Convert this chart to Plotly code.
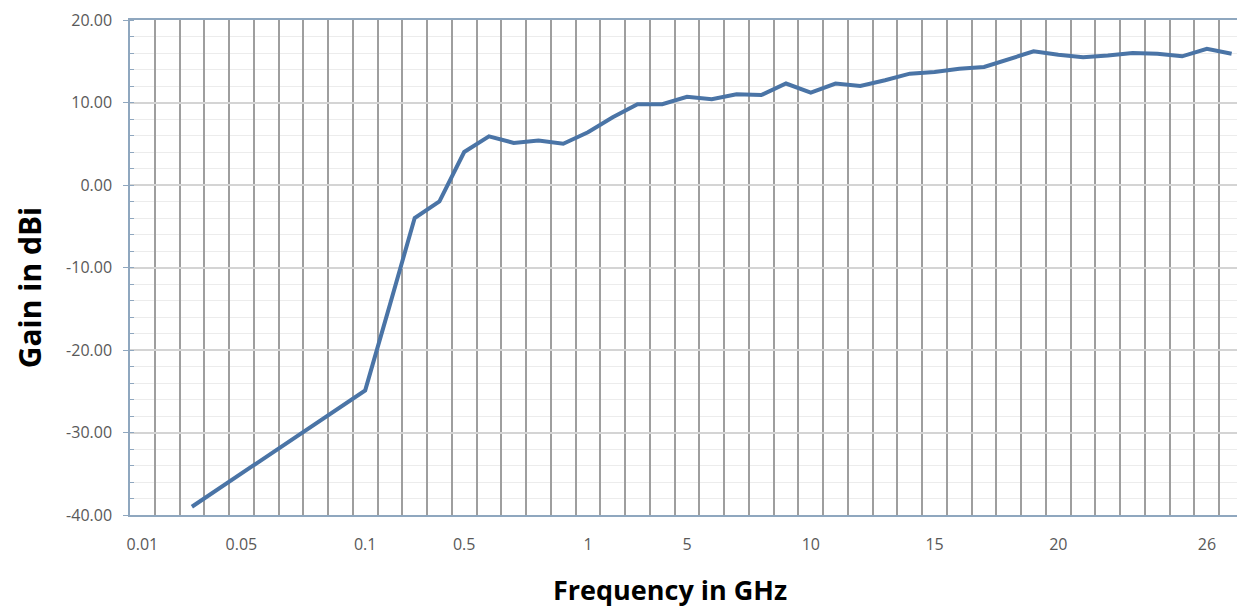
import plotly.graph_objects as go

# Frequency categories (GHz), one per column of the Excel-style line chart
FREQS = [
    0.01, 0.02, 0.03, 0.04, 0.05, 0.06, 0.07, 0.08, 0.09,
    0.1, 0.2, 0.3, 0.4, 0.5, 0.6, 0.7, 0.8, 0.9,
    1, 2, 3, 4, 5, 6, 7, 8, 9, 10, 11, 12, 13, 14, 15,
    16, 17, 18, 19, 20, 21, 22, 23, 24, 25, 26, 27,
]

# Gain in dBi (no measurement at 0.01 and 0.02 GHz)
GAIN = [
    None, None, -39.0, -37.0, -35.0, -33.0, -31.0, -29.0, -27.0,
    -24.9, -14.5, -4.0, -2.0, 4.0, 5.9, 5.1, 5.4, 5.0,
    6.4, 8.2, 9.8, 9.8, 10.7, 10.4, 11.0, 10.9, 12.3, 11.2, 12.3, 12.0, 12.7, 13.5, 13.7,
    14.1, 14.3, 15.3, 16.2, 15.8, 15.5, 15.7, 16.0, 15.9, 15.6, 16.5, 15.9,
]

# Category labels that are actually printed on the x axis
SHOWN_LABELS = ["0.01", "0.05", "0.1", "0.5", "1", "5", "10", "15", "20", "26"]

Y_TICKS = [-40, -30, -20, -10, 0, 10, 20]

categories = [f"{f:g}" for f in FREQS]
tick_text = [c if c in SHOWN_LABELS else "" for c in categories]

FONT = "Open Sans, Arial, sans-serif"
LABEL_GREY = "#595959"
AXIS_BLUE = "#8FA7BF"

fig = go.Figure(
    go.Scatter(
        x=categories,
        y=GAIN,
        mode="lines",
        line=dict(color="#4A74A6", width=4),
        connectgaps=False,
        showlegend=False,
        hoverinfo="x+y",
    )
)

fig.update_xaxes(
    type="category",
    categoryorder="array",
    categoryarray=categories,
    range=[-0.5, len(categories) - 0.5],
    tickmode="array",
    tickvals=categories,
    ticktext=tick_text,
    tickson="boundaries",
    tickangle=0,
    ticks="",
    ticklabelstandoff=14,
    tickfont=dict(family=FONT, size=16, color=LABEL_GREY),
    showgrid=True,
    gridcolor="#9E9E9E",
    gridwidth=1.5,
    showline=True,
    linecolor=AXIS_BLUE,
    linewidth=1.5,
    mirror=True,
    zeroline=False,
)

fig.update_yaxes(
    range=[-40, 20],
    tickmode="array",
    tickvals=Y_TICKS,
    ticktext=[f"{v:.2f}" for v in Y_TICKS],
    ticks="outside",
    ticklen=5,
    tickcolor=AXIS_BLUE,
    ticklabelstandoff=8,
    ticklabeloverflow="allow",
    tickfont=dict(family=FONT, size=16, color=LABEL_GREY),
    showgrid=True,
    gridcolor="#D4D4D4",
    gridwidth=1.5,
    minor=dict(
        dtick=2,
        showgrid=True,
        gridcolor="#ECECEC",
        gridwidth=1,
        ticks="inside",
        ticklen=4,
        tickcolor=AXIS_BLUE,
    ),
    showline=True,
    linecolor=AXIS_BLUE,
    linewidth=1.5,
    zeroline=False,
)

fig.add_annotation(
    text="<b>Gain in dBi</b>",
    xref="paper",
    yref="paper",
    x=-0.0907,
    y=0.46,
    xanchor="center",
    yanchor="middle",
    textangle=-90,
    showarrow=False,
    font=dict(family=FONT, size=30, color="#000000"),
)

fig.add_annotation(
    text="<b>Frequency in GHz</b>",
    xref="paper",
    yref="paper",
    x=0.485,
    y=-0.1506,
    xanchor="center",
    yanchor="middle",
    showarrow=False,
    font=dict(family=FONT, size=27, color="#000000"),
)

# the page body adds an 8px offset, so the figure is sized to the remaining viewport
fig.update_layout(
    width=1237,
    height=605,
    margin=dict(l=122, r=1, t=9, b=98),
    paper_bgcolor="#FFFFFF",
    plot_bgcolor="#FFFFFF",
    showlegend=False,
)

fig.write_html("out.html")
